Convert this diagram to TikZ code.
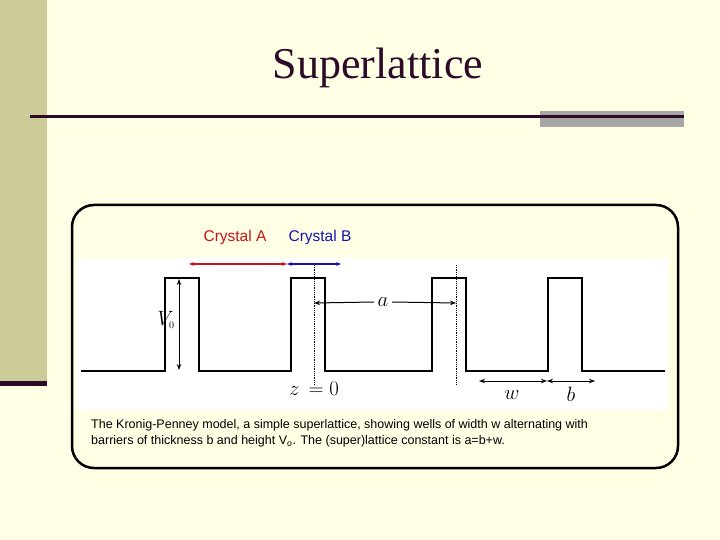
\documentclass[tikz,border=0pt]{standalone}
\usepackage{fontspec}
\setmainfont{Liberation Serif}
\newfontfamily\arialf{Liberation Sans}
\usetikzlibrary{arrows.meta}
\definecolor{cream}{RGB}{255,255,230}
\definecolor{olive}{RGB}{204,204,153}
\definecolor{plum}{RGB}{45,10,40}
\definecolor{redA}{RGB}{200,20,20}
\definecolor{blueB}{RGB}{20,20,170}
\begin{document}
\begin{tikzpicture}[x=1pt,y=-1pt,
  pot/.style={line width=2.2pt,line join=miter},
  dim/.style={line width=1pt,{Stealth[length=6pt]}-{Stealth[length=6pt]}},
  dotl/.style={densely dotted,line width=0.8pt},
  mlab/.style={font=\fontsize{20}{22}\selectfont},
  captext/.style={font=\arialf\fontsize{12.5}{16}\selectfont,anchor=north west,align=left,inner sep=0pt}]
\useasboundingbox (0,0) rectangle (720,540);
\fill[cream] (0,0) rectangle (720,540);
\fill[olive] (0,0) rectangle (47,385);
\fill[plum] (0,381) rectangle (47,386);
\node[font=\fontsize{44}{48}\selectfont,text=plum] (title) at (378,68) {Superlattice};
\fill[gray!70] (540,111) rectangle (684,127);
\draw[plum,line width=3pt] (30,117) -- (684,117);
\draw[line width=2.5pt,rounded corners=22pt,fill=cream] (72,205) rectangle (678,468);
\fill[white] (76,258) rectangle (668,410);
\draw[pot] (81,371) -- (165,371) -- (165,278) -- (199,278) -- (199,371) -- (291,371) -- (291,278) -- (325,278) -- (325,371) -- (432,371) -- (432,278) -- (466,278) -- (466,371) -- (548,371) -- (548,278) -- (582,278) -- (582,371) -- (665,371);
\coordinate (d1t) at (314,265); \coordinate (d1b) at (314,385);
\coordinate (d2t) at (456,265); \coordinate (d2b) at (456,385);
\draw[dotl] (d1t) -- (d1b);
\draw[dotl] (d2t) -- (d2b);
\node[mlab] (a) at (383,302) {$a$};
\coordinate (a1) at (314,303); \coordinate (a2) at (456,303);
\draw[line width=1pt,-{Stealth[length=6pt]}] (a.west) -- (a1);
\draw[line width=1pt,-{Stealth[length=6pt]}] (a.east) -- (a2);
\coordinate (v1) at (179,279); \coordinate (v2) at (179,370);
\draw[dim] (v1) -- (v2);
\node[mlab,inner sep=1pt] (v0) at (166,320) {$V_{\scriptscriptstyle 0}$};
\coordinate (w1) at (479,381); \coordinate (w2) at (547,381); \coordinate (b2) at (595,381);
\draw[dim] (w1) -- (w2);
\draw[dim] (w2) -- (b2);
\node[mlab] (w) at (512,395) {$w$};
\node[mlab] (b) at (571,394) {$b$};
\node[mlab] (z) at (314,389) {$z\,=0$};
\coordinate (c1) at (189,264); \coordinate (c2) at (287,264); \coordinate (c3) at (341,264);
\draw[redA,line width=1.2pt,{Stealth[length=5pt]}-{Stealth[length=5pt]}] (c1) -- (c2);
\draw[blueB,line width=1.2pt,{Stealth[length=5pt]}-{Stealth[length=5pt]}] (c2) -- (c3);
\node[font=\arialf\fontsize{15.5}{18}\selectfont,text=redA] (ca) at (235,237) {Crystal A};
\node[font=\arialf\fontsize{15.5}{18}\selectfont,text=blueB] (cb) at (320,237) {Crystal B};
\node[captext] (caption) at (91,419) {The Kronig-Penney model, a simple superlattice, showing wells of width w alternating with\\barriers of thickness b and height V\textsubscript{o}. The (super)lattice constant is a=b+w.};
\end{tikzpicture}
\end{document}
